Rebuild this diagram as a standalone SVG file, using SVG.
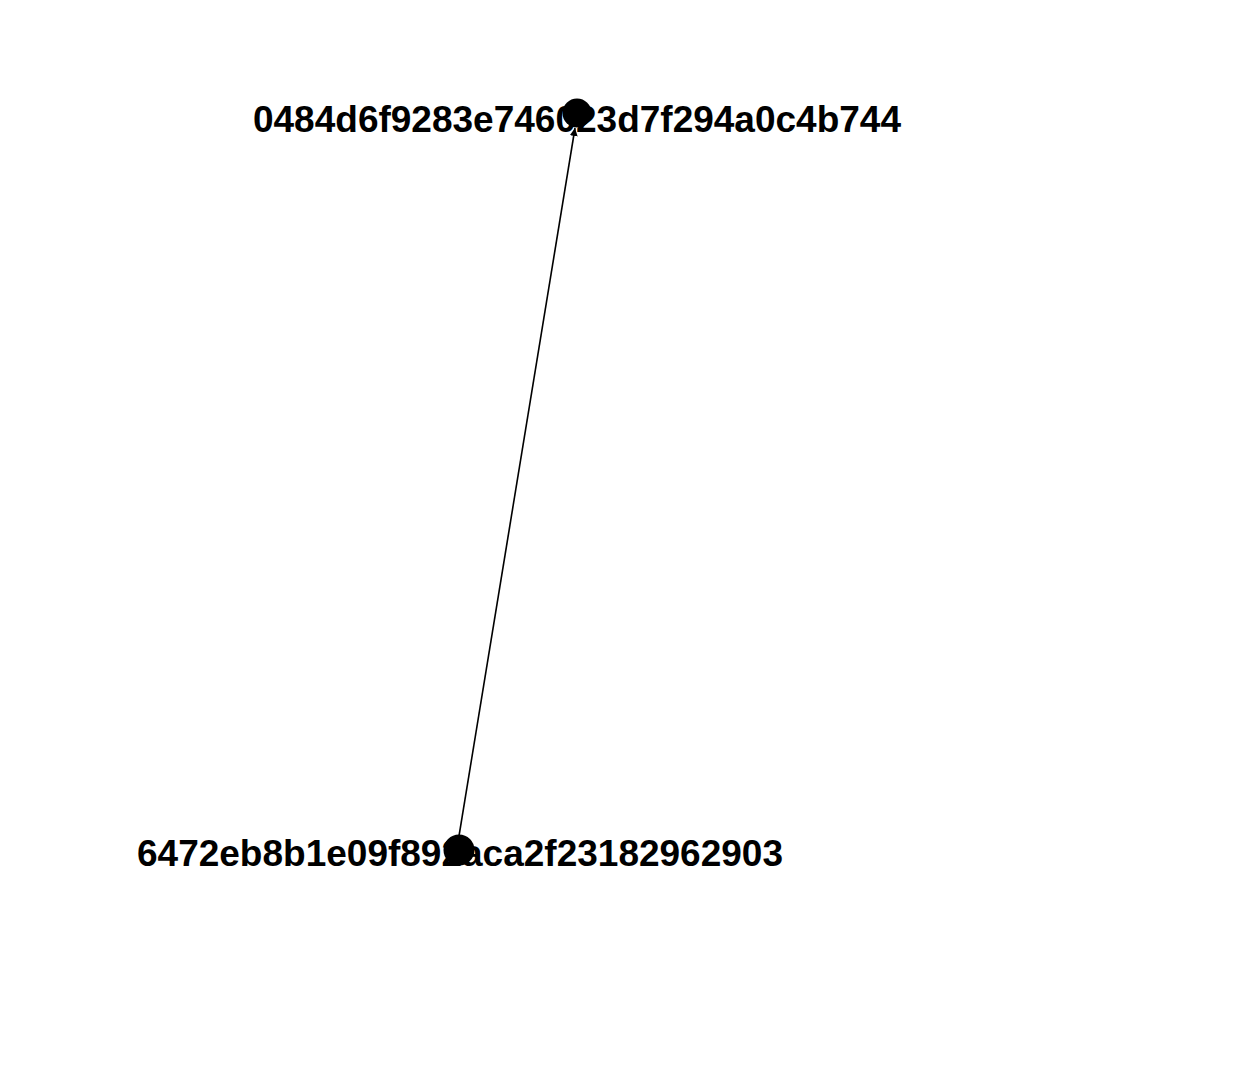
<svg xmlns="http://www.w3.org/2000/svg" width="1246" height="1078" viewBox="0 0 1246 1078">
<style>
.lbl{font-family:"Liberation Sans",Arial,sans-serif;font-weight:bold;font-size:37px;fill:#000;text-anchor:middle}
.dot{fill:#000}
.edge{stroke:#000;stroke-width:1.6;fill:none}
</style>
<defs>
<marker id="ah" viewBox="0 0 10 10" refX="10" refY="5" markerWidth="8" markerHeight="8" markerUnits="userSpaceOnUse" orient="auto">
<path d="M0,0 L10,5 L0,10 z" fill="#000"/>
</marker>
</defs>
<rect width="1246" height="1078" fill="#fff"/>
<g id="connectors">
<line class="edge" x1="459" y1="836" x2="575" y2="128" marker-end="url(#ah)"/>
</g>
<g id="node-top">
<text class="lbl" x="577" y="132">0484d6f9283e746023d7f294a0c4b744</text>
<circle class="dot" cx="577" cy="113" r="14.5"/>
</g>
<g id="node-bottom">
<text class="lbl" x="460" y="866">6472eb8b1e09f892aca2f23182962903</text>
<circle class="dot" cx="459" cy="850" r="15.5"/>
</g>
</svg>
